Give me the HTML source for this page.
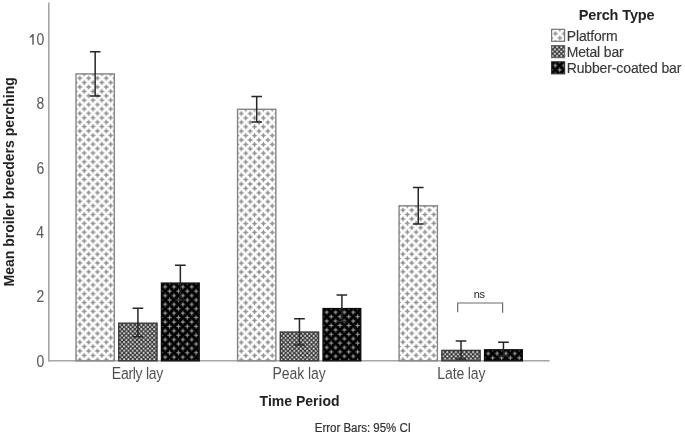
<!DOCTYPE html>
<html><head><meta charset="utf-8">
<style>
html,body{margin:0;padding:0;background:#fff;width:685px;height:435px;overflow:hidden}
svg{display:block;font-family:"Liberation Sans",sans-serif}
</style></head>
<body>
<svg width="685" height="435" viewBox="0 0 685 435">
<defs>
<pattern id="pP0" patternUnits="userSpaceOnUse" width="8.83" height="8.8" x="79.80" y="78.20"><rect width="8.83" height="8.8" fill="#fff"/><path d="M0.00,-3.00 L1.03,-1.03 L3.00,0.00 L1.03,1.03 L0.00,3.00 L-1.03,1.03 L-3.00,0.00 L-1.03,-1.03ZM8.83,-3.00 L9.86,-1.03 L11.83,0.00 L9.86,1.03 L8.83,3.00 L7.80,1.03 L5.83,0.00 L7.80,-1.03ZM0.00,5.80 L1.03,7.77 L3.00,8.80 L1.03,9.83 L0.00,11.80 L-1.03,9.83 L-3.00,8.80 L-1.03,7.77ZM8.83,5.80 L9.86,7.77 L11.83,8.80 L9.86,9.83 L8.83,11.80 L7.80,9.83 L5.83,8.80 L7.80,7.77ZM4.42,1.40 L5.44,3.37 L7.42,4.40 L5.44,5.43 L4.42,7.40 L3.39,5.43 L1.42,4.40 L3.39,3.37Z" fill="#939393"/></pattern>
<pattern id="pM1" patternUnits="userSpaceOnUse" width="4.3" height="4.3" x="118.80" y="323.80"><rect width="4.3" height="4.3" fill="#363636"/><rect x="0.20" y="0.20" width="1.75" height="1.75" fill="#eeeeee"/><rect x="2.35" y="2.35" width="1.75" height="1.75" fill="#eeeeee"/></pattern>
<pattern id="pR2" patternUnits="userSpaceOnUse" width="8.83" height="8.8" x="165.20" y="286.80"><rect width="8.83" height="8.8" fill="#000"/><path d="M0.00,-2.90 L0.74,-0.74 L2.90,0.00 L0.74,0.74 L0.00,2.90 L-0.74,0.74 L-2.90,0.00 L-0.74,-0.74ZM8.83,-2.90 L9.57,-0.74 L11.73,0.00 L9.57,0.74 L8.83,2.90 L8.09,0.74 L5.93,0.00 L8.09,-0.74ZM0.00,5.90 L0.74,8.06 L2.90,8.80 L0.74,9.54 L0.00,11.70 L-0.74,9.54 L-2.90,8.80 L-0.74,8.06ZM8.83,5.90 L9.57,8.06 L11.73,8.80 L9.57,9.54 L8.83,11.70 L8.09,9.54 L5.93,8.80 L8.09,8.06ZM4.42,1.50 L5.16,3.66 L7.31,4.40 L5.16,5.14 L4.42,7.30 L3.67,5.14 L1.52,4.40 L3.67,3.66Z" fill="#999"/></pattern>
<pattern id="pP3" patternUnits="userSpaceOnUse" width="8.83" height="8.8" x="241.35" y="113.60"><rect width="8.83" height="8.8" fill="#fff"/><path d="M0.00,-3.00 L1.03,-1.03 L3.00,0.00 L1.03,1.03 L0.00,3.00 L-1.03,1.03 L-3.00,0.00 L-1.03,-1.03ZM8.83,-3.00 L9.86,-1.03 L11.83,0.00 L9.86,1.03 L8.83,3.00 L7.80,1.03 L5.83,0.00 L7.80,-1.03ZM0.00,5.80 L1.03,7.77 L3.00,8.80 L1.03,9.83 L0.00,11.80 L-1.03,9.83 L-3.00,8.80 L-1.03,7.77ZM8.83,5.80 L9.86,7.77 L11.83,8.80 L9.86,9.83 L8.83,11.80 L7.80,9.83 L5.83,8.80 L7.80,7.77ZM4.42,1.40 L5.44,3.37 L7.42,4.40 L5.44,5.43 L4.42,7.40 L3.39,5.43 L1.42,4.40 L3.39,3.37Z" fill="#939393"/></pattern>
<pattern id="pM4" patternUnits="userSpaceOnUse" width="4.3" height="4.3" x="280.35" y="332.65"><rect width="4.3" height="4.3" fill="#363636"/><rect x="0.20" y="0.20" width="1.75" height="1.75" fill="#eeeeee"/><rect x="2.35" y="2.35" width="1.75" height="1.75" fill="#eeeeee"/></pattern>
<pattern id="pR5" patternUnits="userSpaceOnUse" width="8.83" height="8.8" x="326.75" y="312.30"><rect width="8.83" height="8.8" fill="#000"/><path d="M0.00,-2.90 L0.74,-0.74 L2.90,0.00 L0.74,0.74 L0.00,2.90 L-0.74,0.74 L-2.90,0.00 L-0.74,-0.74ZM8.83,-2.90 L9.57,-0.74 L11.73,0.00 L9.57,0.74 L8.83,2.90 L8.09,0.74 L5.93,0.00 L8.09,-0.74ZM0.00,5.90 L0.74,8.06 L2.90,8.80 L0.74,9.54 L0.00,11.70 L-0.74,9.54 L-2.90,8.80 L-0.74,8.06ZM8.83,5.90 L9.57,8.06 L11.73,8.80 L9.57,9.54 L8.83,11.70 L8.09,9.54 L5.93,8.80 L8.09,8.06ZM4.42,1.50 L5.16,3.66 L7.31,4.40 L5.16,5.14 L4.42,7.30 L3.67,5.14 L1.52,4.40 L3.67,3.66Z" fill="#999"/></pattern>
<pattern id="pP6" patternUnits="userSpaceOnUse" width="8.83" height="8.8" x="402.90" y="210.10"><rect width="8.83" height="8.8" fill="#fff"/><path d="M0.00,-3.00 L1.03,-1.03 L3.00,0.00 L1.03,1.03 L0.00,3.00 L-1.03,1.03 L-3.00,0.00 L-1.03,-1.03ZM8.83,-3.00 L9.86,-1.03 L11.83,0.00 L9.86,1.03 L8.83,3.00 L7.80,1.03 L5.83,0.00 L7.80,-1.03ZM0.00,5.80 L1.03,7.77 L3.00,8.80 L1.03,9.83 L0.00,11.80 L-1.03,9.83 L-3.00,8.80 L-1.03,7.77ZM8.83,5.80 L9.86,7.77 L11.83,8.80 L9.86,9.83 L8.83,11.80 L7.80,9.83 L5.83,8.80 L7.80,7.77ZM4.42,1.40 L5.44,3.37 L7.42,4.40 L5.44,5.43 L4.42,7.40 L3.39,5.43 L1.42,4.40 L3.39,3.37Z" fill="#939393"/></pattern>
<pattern id="pM7" patternUnits="userSpaceOnUse" width="4.3" height="4.3" x="441.90" y="351.00"><rect width="4.3" height="4.3" fill="#363636"/><rect x="0.20" y="0.20" width="1.75" height="1.75" fill="#eeeeee"/><rect x="2.35" y="2.35" width="1.75" height="1.75" fill="#eeeeee"/></pattern>
<pattern id="pR8" patternUnits="userSpaceOnUse" width="8.83" height="8.8" x="488.30" y="353.50"><rect width="8.83" height="8.8" fill="#000"/><path d="M0.00,-2.90 L0.74,-0.74 L2.90,0.00 L0.74,0.74 L0.00,2.90 L-0.74,0.74 L-2.90,0.00 L-0.74,-0.74ZM8.83,-2.90 L9.57,-0.74 L11.73,0.00 L9.57,0.74 L8.83,2.90 L8.09,0.74 L5.93,0.00 L8.09,-0.74ZM0.00,5.90 L0.74,8.06 L2.90,8.80 L0.74,9.54 L0.00,11.70 L-0.74,9.54 L-2.90,8.80 L-0.74,8.06ZM8.83,5.90 L9.57,8.06 L11.73,8.80 L9.57,9.54 L8.83,11.70 L8.09,9.54 L5.93,8.80 L8.09,8.06ZM4.42,1.50 L5.16,3.66 L7.31,4.40 L5.16,5.14 L4.42,7.30 L3.67,5.14 L1.52,4.40 L3.67,3.66Z" fill="#999"/></pattern>
<pattern id="pPL" patternUnits="userSpaceOnUse" width="8.83" height="8.8" x="555.40" y="33.60"><rect width="8.83" height="8.8" fill="#fff"/><path d="M0.00,-3.00 L1.03,-1.03 L3.00,0.00 L1.03,1.03 L0.00,3.00 L-1.03,1.03 L-3.00,0.00 L-1.03,-1.03ZM8.83,-3.00 L9.86,-1.03 L11.83,0.00 L9.86,1.03 L8.83,3.00 L7.80,1.03 L5.83,0.00 L7.80,-1.03ZM0.00,5.80 L1.03,7.77 L3.00,8.80 L1.03,9.83 L0.00,11.80 L-1.03,9.83 L-3.00,8.80 L-1.03,7.77ZM8.83,5.80 L9.86,7.77 L11.83,8.80 L9.86,9.83 L8.83,11.80 L7.80,9.83 L5.83,8.80 L7.80,7.77ZM4.42,1.40 L5.44,3.37 L7.42,4.40 L5.44,5.43 L4.42,7.40 L3.39,5.43 L1.42,4.40 L3.39,3.37Z" fill="#939393"/></pattern>
<pattern id="pML" patternUnits="userSpaceOnUse" width="4.3" height="4.3" x="551.65" y="46.20"><rect width="4.3" height="4.3" fill="#363636"/><rect x="0.20" y="0.20" width="1.75" height="1.75" fill="#eeeeee"/><rect x="2.35" y="2.35" width="1.75" height="1.75" fill="#eeeeee"/></pattern>
<pattern id="pRL" patternUnits="userSpaceOnUse" width="8.83" height="8.8" x="555.30" y="65.50"><rect width="8.83" height="8.8" fill="#000"/><path d="M0.00,-2.90 L0.74,-0.74 L2.90,0.00 L0.74,0.74 L0.00,2.90 L-0.74,0.74 L-2.90,0.00 L-0.74,-0.74ZM8.83,-2.90 L9.57,-0.74 L11.73,0.00 L9.57,0.74 L8.83,2.90 L8.09,0.74 L5.93,0.00 L8.09,-0.74ZM0.00,5.90 L0.74,8.06 L2.90,8.80 L0.74,9.54 L0.00,11.70 L-0.74,9.54 L-2.90,8.80 L-0.74,8.06ZM8.83,5.90 L9.57,8.06 L11.73,8.80 L9.57,9.54 L8.83,11.70 L8.09,9.54 L5.93,8.80 L8.09,8.06ZM4.42,1.50 L5.16,3.66 L7.31,4.40 L5.16,5.14 L4.42,7.30 L3.67,5.14 L1.52,4.40 L3.67,3.66Z" fill="#999"/></pattern>
<filter id="bl" x="-5%" y="-5%" width="110%" height="110%"><feGaussianBlur stdDeviation="0.4"/></filter>
</defs>
<g id="all" filter="url(#bl)">
<line x1="48.8" y1="2.5" x2="48.8" y2="361.6" stroke="#a6a6a6" stroke-width="1.6"/>
<line x1="48" y1="360.8" x2="549.6" y2="360.8" stroke="#a6a6a6" stroke-width="1.6"/>
<g transform="translate(36.46,44.90) scale(1,1.130)"><text font-size="14" font-weight="normal" fill="#555" >0</text></g>
<g transform="translate(36.52,109.05) scale(1,1.130)"><text font-size="14" font-weight="normal" fill="#555" >8</text></g>
<g transform="translate(36.53,173.55) scale(1,1.130)"><text font-size="14" font-weight="normal" fill="#555" >6</text></g>
<g transform="translate(36.32,237.95) scale(1,1.130)"><text font-size="14" font-weight="normal" fill="#555" >4</text></g>
<g transform="translate(36.62,302.45) scale(1,1.130)"><text font-size="14" font-weight="normal" fill="#555" >2</text></g>
<g transform="translate(36.46,366.85) scale(1,1.130)"><text font-size="14" font-weight="normal" fill="#555" >0</text></g>
<path d="M33.7,34.1 V44.75 H32.3 V36.4 L29.8,38.1 V36.7 L32.5,34.1Z" fill="#555"/>
<rect x="76.0" y="73.9" width="38.3" height="286.90" fill="url(#pP0)" stroke="#858585" stroke-width="1.4"/>
<rect x="118.75" y="323.2" width="38.3" height="37.60" fill="url(#pM1)" stroke="#3a3a3a" stroke-width="1.4"/>
<rect x="161.5" y="283.1" width="37.7" height="77.70" fill="url(#pR2)" stroke="#111" stroke-width="1.4"/>
<rect x="237.55" y="109.3" width="38.3" height="251.50" fill="url(#pP3)" stroke="#858585" stroke-width="1.4"/>
<rect x="280.3" y="332.05" width="38.3" height="28.75" fill="url(#pM4)" stroke="#3a3a3a" stroke-width="1.4"/>
<rect x="323.05" y="308.6" width="37.7" height="52.20" fill="url(#pR5)" stroke="#111" stroke-width="1.4"/>
<rect x="399.1" y="205.8" width="38.3" height="155.00" fill="url(#pP6)" stroke="#858585" stroke-width="1.4"/>
<rect x="441.85" y="350.4" width="38.3" height="10.40" fill="url(#pM7)" stroke="#3a3a3a" stroke-width="1.4"/>
<rect x="484.6" y="349.8" width="37.7" height="11.00" fill="url(#pR8)" stroke="#111" stroke-width="1.4"/>
<path d="M95.15,51.7V96.0 M89.9,51.7H100.5 M89.9,96.0H100.5 M137.9,308.3V336.7 M132.6,308.3H143.2 M132.6,336.7H143.2 M180.35,265.2V300.0 M175.0,265.2H185.7 M175.0,300.0H185.7 M256.7,96.6V122.1 M251.4,96.6H262.0 M251.4,122.1H262.0 M299.45,318.7V345.0 M294.1,318.7H304.8 M294.1,345.0H304.8 M341.9,295.0V321.6 M336.6,295.0H347.2 M336.6,321.6H347.2 M418.25,187.4V224.0 M412.9,187.4H423.6 M412.9,224.0H423.6 M461.0,341.1V359.0 M455.7,341.1H466.3 M455.7,359.0H466.3 M503.45,342.2V356.0 M498.1,342.2H508.8 M498.1,356.0H508.8" stroke="#262626" stroke-width="1.5" fill="none"/>
<path d="M457.7,312.3V303 H502.6 V312.8" stroke="#6a6a6a" stroke-width="1.2" fill="none"/>
<g transform="translate(473.87,297.60) scale(1,1.000)"><text font-size="11" font-weight="normal" fill="#222" letter-spacing="-0.49"  >ns</text></g>
<g transform="translate(111.85,378.80) scale(1,1.120)"><text font-size="14" font-weight="normal" fill="#505050" letter-spacing="-0.28"  >Early lay</text></g>
<g transform="translate(272.60,378.80) scale(1,1.120)"><text font-size="14" font-weight="normal" fill="#505050" letter-spacing="-0.07"  >Peak lay</text></g>
<g transform="translate(437.30,378.80) scale(1,1.120)"><text font-size="14" font-weight="normal" fill="#505050" letter-spacing="-0.12"  >Late lay</text></g>
<g transform="translate(259.62,405.70) scale(1,1.000)"><text font-size="14" font-weight="bold" fill="#222" letter-spacing="0.00"  >Time Period</text></g>
<g transform="translate(314.86,432.10) scale(1,1.100)"><text font-size="11.5" font-weight="normal" fill="#333" letter-spacing="-0.02" stroke="#333" stroke-width="0.2" >Error Bars: 95% CI</text></g>
<text transform="translate(13.5,181.8) rotate(-90)" font-size="14" font-weight="bold" fill="#222" text-anchor="middle">Mean broiler breeders perching</text>
<g transform="translate(578.63,20.10) scale(1,1.000)"><text font-size="14.5" font-weight="bold" fill="#222" letter-spacing="-0.12"  >Perch Type</text></g>
<rect x="551.6" y="29.3" width="13" height="12" fill="url(#pPL)" stroke="#777" stroke-width="1.2"/>
<rect x="551.6" y="45.6" width="13" height="12" fill="url(#pML)" stroke="#666" stroke-width="1.2"/>
<rect x="551.6" y="61.8" width="13" height="12" fill="url(#pRL)" stroke="#333" stroke-width="1.2"/>
<g transform="translate(566.75,40.90) scale(1,1.100)"><text font-size="14" font-weight="normal" fill="#383838" letter-spacing="-0.15" stroke="#383838" stroke-width="0.15" >Platform</text></g>
<g transform="translate(566.65,56.70) scale(1,1.100)"><text font-size="14" font-weight="normal" fill="#383838" letter-spacing="-0.16" stroke="#383838" stroke-width="0.15" >Metal bar</text></g>
<g transform="translate(566.65,72.60) scale(1,1.100)"><text font-size="14" font-weight="normal" fill="#383838" letter-spacing="-0.12" stroke="#383838" stroke-width="0.15" >Rubber-coated bar</text></g>
</g></svg></body></html>
